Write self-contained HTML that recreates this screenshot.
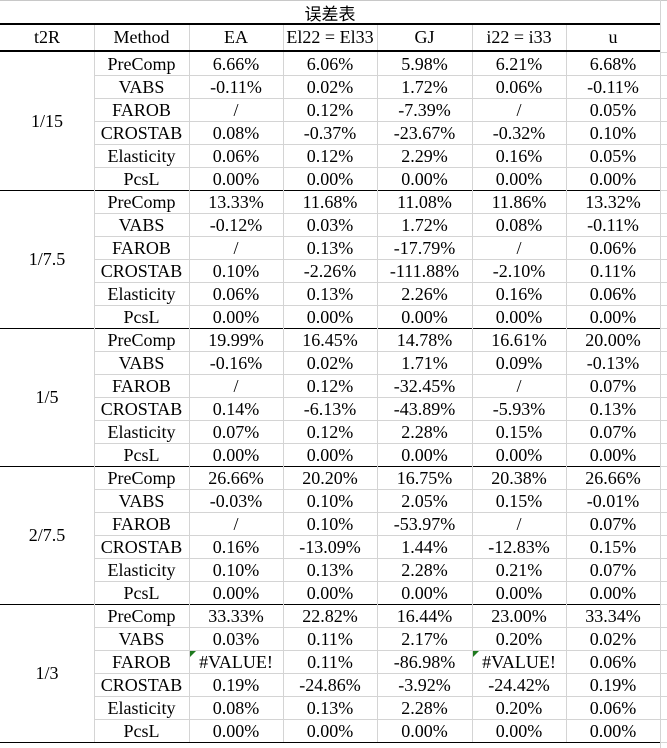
<!DOCTYPE html>
<html><head><meta charset="utf-8">
<style>
html,body{margin:0;padding:0;background:#fff;}
#t{position:relative;width:667px;height:748px;overflow:hidden;font-family:"Liberation Serif","Noto Serif CJK SC",serif;font-size:18px;color:#000;}
.c{position:absolute;display:flex;align-items:center;justify-content:center;white-space:nowrap;box-sizing:border-box;}
.l{position:absolute;}
</style></head><body>
<div id="t"></div>
<script>
const cols=[0,94,189,283,377,472,566,660];
const headers=["t2R","Method","EA","El22 = El33","GJ","i22 = i33","u"];
const groups=["1/15","1/7.5","1/5","2/7.5","1/3"];
const methods=["PreComp","VABS","FAROB","CROSTAB","Elasticity","PcsL"];
const vals=[
[["6.66%","6.06%","5.98%","6.21%","6.68%"],["-0.11%","0.02%","1.72%","0.06%","-0.11%"],["/","0.12%","-7.39%","/","0.05%"],["0.08%","-0.37%","-23.67%","-0.32%","0.10%"],["0.06%","0.12%","2.29%","0.16%","0.05%"],["0.00%","0.00%","0.00%","0.00%","0.00%"]],
[["13.33%","11.68%","11.08%","11.86%","13.32%"],["-0.12%","0.03%","1.72%","0.08%","-0.11%"],["/","0.13%","-17.79%","/","0.06%"],["0.10%","-2.26%","-111.88%","-2.10%","0.11%"],["0.06%","0.13%","2.26%","0.16%","0.06%"],["0.00%","0.00%","0.00%","0.00%","0.00%"]],
[["19.99%","16.45%","14.78%","16.61%","20.00%"],["-0.16%","0.02%","1.71%","0.09%","-0.13%"],["/","0.12%","-32.45%","/","0.07%"],["0.14%","-6.13%","-43.89%","-5.93%","0.13%"],["0.07%","0.12%","2.28%","0.15%","0.07%"],["0.00%","0.00%","0.00%","0.00%","0.00%"]],
[["26.66%","20.20%","16.75%","20.38%","26.66%"],["-0.03%","0.10%","2.05%","0.15%","-0.01%"],["/","0.10%","-53.97%","/","0.07%"],["0.16%","-13.09%","1.44%","-12.83%","0.15%"],["0.10%","0.13%","2.28%","0.21%","0.07%"],["0.00%","0.00%","0.00%","0.00%","0.00%"]],
[["33.33%","22.82%","16.44%","23.00%","33.34%"],["0.03%","0.11%","2.17%","0.20%","0.02%"],["#VALUE!","0.11%","-86.98%","#VALUE!","0.06%"],["0.19%","-24.86%","-3.92%","-24.42%","0.19%"],["0.08%","0.13%","2.28%","0.20%","0.06%"],["0.00%","0.00%","0.00%","0.00%","0.00%"]]
];
const T=document.getElementById('t');
function line(x,y,w,h,c){const d=document.createElement('div');d.className='l';


d.style.cssText=`left:${x}px;top:${y}px;width:${w}px;height:${h}px;background:${c}`;T.appendChild(d);}
function cell(x,y,w,h,txt,name){const d=document.createElement('div');d.className='c';


d.style.cssText=`left:${x}px;top:${y}px;width:${w}px;height:${h}px`;d.textContent=txt;T.appendChild(d);return d;}
const G='#d4d4d4';
line(0,0,667,1,'#c8c8c8');
line(660,0,1,748,G);
for(let y=52;y<748;y+=23) line(660,y,7,1,G);
const tt=cell(0,1,660,23,'误差表','table-title');
tt.style.fontFamily='"Liberation Sans","Noto Sans CJK SC",sans-serif';tt.style.fontSize='17px';
line(0,23,660,2,'#000');
for(let i=0;i<7;i++){cell(cols[i],25,cols[i+1]-cols[i],25,headers[i],'header-'+headers[i].toLowerCase().replace(/[^a-z0-9]+/g,'-'));}
for(let i=1;i<7;i++) line(cols[i],25,1,25,G);
line(0,50,660,2,'#000');
const top0=52,rh=23;
groups.forEach((g,gi)=>{
 const gy=top0+gi*138;
 cell(0,gy,94,138,g,'group-label-'+gi);
 for(let i=1;i<7;i++) line(cols[i],gy,1,138,G);
 methods.forEach((m,ri)=>{
  const y=gy+ri*rh;
  if(ri>0) line(94,y,566,1,G);
  cell(94,y+1,95,rh-1,m,'method-'+m.toLowerCase());
  vals[gi][ri].forEach((v,ci)=>{
   const c=cell(cols[ci+2],y+1,cols[ci+3]-cols[ci+2],rh-1,v,'value-cell');
   if(v==='#VALUE!'){const tri=document.createElement('div');
    
    
    tri.style.cssText='position:absolute;left:1px;top:0;width:0;height:0;border-top:6px solid #1e7a1e;border-right:6px solid transparent';c.appendChild(tri);}
  });
 });
 line(0,gy+138,660,1,'#000');
});
</script>
</body></html>
